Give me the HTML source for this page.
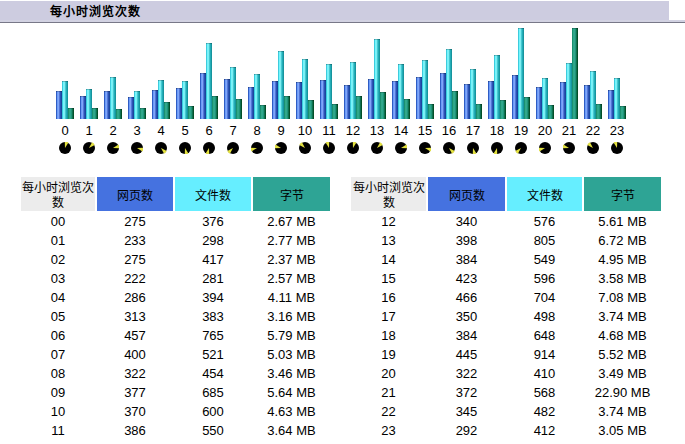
<!DOCTYPE html><html lang="zh-CN"><head><meta charset="utf-8"><style>
*{margin:0;padding:0;box-sizing:border-box}
html,body{width:685px;height:444px;overflow:hidden;background:#fff}
body{position:relative;font-family:"Liberation Sans",sans-serif;color:#000}
.a{position:absolute}
#tb{left:0;top:1px;width:669px;height:21px;background:#CDCCE0}
#ts{left:0;top:20px;width:685px;height:2px;background:#D2D2E2}
#tl{left:0;top:22px;width:685px;height:1px;background:#787888}
#tt{left:50px;top:4px;font-size:12px;letter-spacing:1px;font-weight:bold;line-height:16px;white-space:nowrap}
.bp{width:6px;background:linear-gradient(90deg,#2f5cc4 0 16.6%,#6c9cf8 16.6% 33.3%,#80a6f8 33.3% 50%,#5276d6 50% 66.6%,#2b52b4 66.6% 83.3%,#1a469e 83.3%)}
.bh{width:6px;background:linear-gradient(90deg,#3ecbdc 0 16.6%,#72f6fe 16.6% 33.3%,#7eeef2 33.3% 50%,#44c8d2 50% 66.6%,#22adb6 66.6% 83.3%,#17949e 83.3%)}
.bk{width:6px;background:linear-gradient(90deg,#1a9070 0 16.6%,#30a888 16.6% 33.3%,#30a68e 33.3% 50%,#1f9676 50% 66.6%,#0f6f50 66.6% 83.3%,#045028 83.3%)}
.lb{width:24px;text-align:center;font-size:13px;line-height:16px;top:123px}
.ic{width:12px;height:12px;top:142px}
.ic svg{display:block}
.th span{position:relative;top:2px}
.th{top:177px;height:34px;font-size:12px;line-height:15px;text-align:center;display:flex;align-items:center;justify-content:center}
.bp,.bh,.bk{box-shadow:inset 0 1px 0 rgba(0,0,0,.22)}
.td{font-size:13px;line-height:19px;text-align:center;white-space:nowrap}
</style></head><body>
<div class="a" id="tb"></div><div class="a" id="ts"></div><div class="a" id="tl"></div><div class="a" id="tt">每小时浏览次数</div>
<div class="a bp" style="left:56px;top:91px;height:28px"></div>
<div class="a bh" style="left:62px;top:81px;height:38px"></div>
<div class="a bk" style="left:68px;top:108px;height:11px"></div>
<div class="a lb" style="left:53px">0</div>
<div class="a ic" style="left:59px"><svg width="12" height="12" viewBox="0 0 12 12"><circle cx="6" cy="6" r="6" fill="#000"/><path d="M6 6L5.77 -0.50A6.5 6.5 0 0 1 9.44 0.49Z" fill="#e2e040"/></svg></div>
<div class="a bp" style="left:80px;top:96px;height:23px"></div>
<div class="a bh" style="left:86px;top:89px;height:30px"></div>
<div class="a bk" style="left:92px;top:108px;height:11px"></div>
<div class="a lb" style="left:77px">1</div>
<div class="a ic" style="left:83px"><svg width="12" height="12" viewBox="0 0 12 12"><circle cx="6" cy="6" r="6" fill="#000"/><path d="M6 6L9.05 0.26A6.5 6.5 0 0 1 11.74 2.95Z" fill="#e2e040"/></svg></div>
<div class="a bp" style="left:104px;top:91px;height:28px"></div>
<div class="a bh" style="left:110px;top:77px;height:42px"></div>
<div class="a bk" style="left:116px;top:109px;height:10px"></div>
<div class="a lb" style="left:101px">2</div>
<div class="a ic" style="left:107px"><svg width="12" height="12" viewBox="0 0 12 12"><circle cx="6" cy="6" r="6" fill="#000"/><path d="M6 6L11.51 2.56A6.5 6.5 0 0 1 12.50 6.23Z" fill="#e2e040"/></svg></div>
<div class="a bp" style="left:128px;top:97px;height:22px"></div>
<div class="a bh" style="left:134px;top:91px;height:28px"></div>
<div class="a bk" style="left:140px;top:108px;height:11px"></div>
<div class="a lb" style="left:125px">3</div>
<div class="a ic" style="left:131px"><svg width="12" height="12" viewBox="0 0 12 12"><circle cx="6" cy="6" r="6" fill="#000"/><path d="M6 6L12.50 5.77A6.5 6.5 0 0 1 11.51 9.44Z" fill="#e2e040"/></svg></div>
<div class="a bp" style="left:152px;top:90px;height:29px"></div>
<div class="a bh" style="left:158px;top:80px;height:39px"></div>
<div class="a bk" style="left:164px;top:102px;height:17px"></div>
<div class="a lb" style="left:149px">4</div>
<div class="a ic" style="left:155px"><svg width="12" height="12" viewBox="0 0 12 12"><circle cx="6" cy="6" r="6" fill="#000"/><path d="M6 6L11.74 9.05A6.5 6.5 0 0 1 9.05 11.74Z" fill="#e2e040"/></svg></div>
<div class="a bp" style="left:176px;top:88px;height:31px"></div>
<div class="a bh" style="left:182px;top:81px;height:38px"></div>
<div class="a bk" style="left:188px;top:106px;height:13px"></div>
<div class="a lb" style="left:173px">5</div>
<div class="a ic" style="left:179px"><svg width="12" height="12" viewBox="0 0 12 12"><circle cx="6" cy="6" r="6" fill="#000"/><path d="M6 6L9.44 11.51A6.5 6.5 0 0 1 5.77 12.50Z" fill="#e2e040"/></svg></div>
<div class="a bp" style="left:200px;top:73px;height:46px"></div>
<div class="a bh" style="left:206px;top:43px;height:76px"></div>
<div class="a bk" style="left:212px;top:96px;height:23px"></div>
<div class="a lb" style="left:197px">6</div>
<div class="a ic" style="left:203px"><svg width="12" height="12" viewBox="0 0 12 12"><circle cx="6" cy="6" r="6" fill="#000"/><path d="M6 6L6.23 12.50A6.5 6.5 0 0 1 2.56 11.51Z" fill="#e2e040"/></svg></div>
<div class="a bp" style="left:224px;top:79px;height:40px"></div>
<div class="a bh" style="left:230px;top:67px;height:52px"></div>
<div class="a bk" style="left:236px;top:99px;height:20px"></div>
<div class="a lb" style="left:221px">7</div>
<div class="a ic" style="left:227px"><svg width="12" height="12" viewBox="0 0 12 12"><circle cx="6" cy="6" r="6" fill="#000"/><path d="M6 6L2.95 11.74A6.5 6.5 0 0 1 0.26 9.05Z" fill="#e2e040"/></svg></div>
<div class="a bp" style="left:248px;top:87px;height:32px"></div>
<div class="a bh" style="left:254px;top:74px;height:45px"></div>
<div class="a bk" style="left:260px;top:105px;height:14px"></div>
<div class="a lb" style="left:245px">8</div>
<div class="a ic" style="left:251px"><svg width="12" height="12" viewBox="0 0 12 12"><circle cx="6" cy="6" r="6" fill="#000"/><path d="M6 6L0.49 9.44A6.5 6.5 0 0 1 -0.50 5.77Z" fill="#e2e040"/></svg></div>
<div class="a bp" style="left:272px;top:81px;height:38px"></div>
<div class="a bh" style="left:278px;top:51px;height:68px"></div>
<div class="a bk" style="left:284px;top:96px;height:23px"></div>
<div class="a lb" style="left:269px">9</div>
<div class="a ic" style="left:275px"><svg width="12" height="12" viewBox="0 0 12 12"><circle cx="6" cy="6" r="6" fill="#000"/><path d="M6 6L-0.50 6.23A6.5 6.5 0 0 1 0.49 2.56Z" fill="#e2e040"/></svg></div>
<div class="a bp" style="left:296px;top:82px;height:37px"></div>
<div class="a bh" style="left:302px;top:59px;height:60px"></div>
<div class="a bk" style="left:308px;top:100px;height:19px"></div>
<div class="a lb" style="left:293px">10</div>
<div class="a ic" style="left:299px"><svg width="12" height="12" viewBox="0 0 12 12"><circle cx="6" cy="6" r="6" fill="#000"/><path d="M6 6L0.26 2.95A6.5 6.5 0 0 1 2.95 0.26Z" fill="#e2e040"/></svg></div>
<div class="a bp" style="left:320px;top:80px;height:39px"></div>
<div class="a bh" style="left:326px;top:64px;height:55px"></div>
<div class="a bk" style="left:332px;top:104px;height:15px"></div>
<div class="a lb" style="left:317px">11</div>
<div class="a ic" style="left:323px"><svg width="12" height="12" viewBox="0 0 12 12"><circle cx="6" cy="6" r="6" fill="#000"/><path d="M6 6L2.56 0.49A6.5 6.5 0 0 1 6.23 -0.50Z" fill="#e2e040"/></svg></div>
<div class="a bp" style="left:344px;top:85px;height:34px"></div>
<div class="a bh" style="left:350px;top:62px;height:57px"></div>
<div class="a bk" style="left:356px;top:96px;height:23px"></div>
<div class="a lb" style="left:341px">12</div>
<div class="a ic" style="left:347px"><svg width="12" height="12" viewBox="0 0 12 12"><circle cx="6" cy="6" r="6" fill="#000"/><path d="M6 6L5.77 -0.50A6.5 6.5 0 0 1 9.44 0.49Z" fill="#e2e040"/></svg></div>
<div class="a bp" style="left:368px;top:79px;height:40px"></div>
<div class="a bh" style="left:374px;top:39px;height:80px"></div>
<div class="a bk" style="left:380px;top:92px;height:27px"></div>
<div class="a lb" style="left:365px">13</div>
<div class="a ic" style="left:371px"><svg width="12" height="12" viewBox="0 0 12 12"><circle cx="6" cy="6" r="6" fill="#000"/><path d="M6 6L9.05 0.26A6.5 6.5 0 0 1 11.74 2.95Z" fill="#e2e040"/></svg></div>
<div class="a bp" style="left:392px;top:81px;height:38px"></div>
<div class="a bh" style="left:398px;top:64px;height:55px"></div>
<div class="a bk" style="left:404px;top:99px;height:20px"></div>
<div class="a lb" style="left:389px">14</div>
<div class="a ic" style="left:395px"><svg width="12" height="12" viewBox="0 0 12 12"><circle cx="6" cy="6" r="6" fill="#000"/><path d="M6 6L11.51 2.56A6.5 6.5 0 0 1 12.50 6.23Z" fill="#e2e040"/></svg></div>
<div class="a bp" style="left:416px;top:77px;height:42px"></div>
<div class="a bh" style="left:422px;top:60px;height:59px"></div>
<div class="a bk" style="left:428px;top:104px;height:15px"></div>
<div class="a lb" style="left:413px">15</div>
<div class="a ic" style="left:419px"><svg width="12" height="12" viewBox="0 0 12 12"><circle cx="6" cy="6" r="6" fill="#000"/><path d="M6 6L12.50 5.77A6.5 6.5 0 0 1 11.51 9.44Z" fill="#e2e040"/></svg></div>
<div class="a bp" style="left:440px;top:73px;height:46px"></div>
<div class="a bh" style="left:446px;top:49px;height:70px"></div>
<div class="a bk" style="left:452px;top:91px;height:28px"></div>
<div class="a lb" style="left:437px">16</div>
<div class="a ic" style="left:443px"><svg width="12" height="12" viewBox="0 0 12 12"><circle cx="6" cy="6" r="6" fill="#000"/><path d="M6 6L11.74 9.05A6.5 6.5 0 0 1 9.05 11.74Z" fill="#e2e040"/></svg></div>
<div class="a bp" style="left:464px;top:84px;height:35px"></div>
<div class="a bh" style="left:470px;top:69px;height:50px"></div>
<div class="a bk" style="left:476px;top:104px;height:15px"></div>
<div class="a lb" style="left:461px">17</div>
<div class="a ic" style="left:467px"><svg width="12" height="12" viewBox="0 0 12 12"><circle cx="6" cy="6" r="6" fill="#000"/><path d="M6 6L9.44 11.51A6.5 6.5 0 0 1 5.77 12.50Z" fill="#e2e040"/></svg></div>
<div class="a bp" style="left:488px;top:81px;height:38px"></div>
<div class="a bh" style="left:494px;top:55px;height:64px"></div>
<div class="a bk" style="left:500px;top:100px;height:19px"></div>
<div class="a lb" style="left:485px">18</div>
<div class="a ic" style="left:491px"><svg width="12" height="12" viewBox="0 0 12 12"><circle cx="6" cy="6" r="6" fill="#000"/><path d="M6 6L6.23 12.50A6.5 6.5 0 0 1 2.56 11.51Z" fill="#e2e040"/></svg></div>
<div class="a bp" style="left:512px;top:75px;height:44px"></div>
<div class="a bh" style="left:518px;top:28px;height:91px"></div>
<div class="a bk" style="left:524px;top:97px;height:22px"></div>
<div class="a lb" style="left:509px">19</div>
<div class="a ic" style="left:515px"><svg width="12" height="12" viewBox="0 0 12 12"><circle cx="6" cy="6" r="6" fill="#000"/><path d="M6 6L2.95 11.74A6.5 6.5 0 0 1 0.26 9.05Z" fill="#e2e040"/></svg></div>
<div class="a bp" style="left:536px;top:87px;height:32px"></div>
<div class="a bh" style="left:542px;top:78px;height:41px"></div>
<div class="a bk" style="left:548px;top:105px;height:14px"></div>
<div class="a lb" style="left:533px">20</div>
<div class="a ic" style="left:539px"><svg width="12" height="12" viewBox="0 0 12 12"><circle cx="6" cy="6" r="6" fill="#000"/><path d="M6 6L0.49 9.44A6.5 6.5 0 0 1 -0.50 5.77Z" fill="#e2e040"/></svg></div>
<div class="a bp" style="left:560px;top:82px;height:37px"></div>
<div class="a bh" style="left:566px;top:63px;height:56px"></div>
<div class="a bk" style="left:572px;top:28px;height:91px"></div>
<div class="a lb" style="left:557px">21</div>
<div class="a ic" style="left:563px"><svg width="12" height="12" viewBox="0 0 12 12"><circle cx="6" cy="6" r="6" fill="#000"/><path d="M6 6L-0.50 6.23A6.5 6.5 0 0 1 0.49 2.56Z" fill="#e2e040"/></svg></div>
<div class="a bp" style="left:584px;top:85px;height:34px"></div>
<div class="a bh" style="left:590px;top:71px;height:48px"></div>
<div class="a bk" style="left:596px;top:104px;height:15px"></div>
<div class="a lb" style="left:581px">22</div>
<div class="a ic" style="left:587px"><svg width="12" height="12" viewBox="0 0 12 12"><circle cx="6" cy="6" r="6" fill="#000"/><path d="M6 6L0.26 2.95A6.5 6.5 0 0 1 2.95 0.26Z" fill="#e2e040"/></svg></div>
<div class="a bp" style="left:608px;top:90px;height:29px"></div>
<div class="a bh" style="left:614px;top:78px;height:41px"></div>
<div class="a bk" style="left:620px;top:106px;height:13px"></div>
<div class="a lb" style="left:605px">23</div>
<div class="a ic" style="left:611px"><svg width="12" height="12" viewBox="0 0 12 12"><circle cx="6" cy="6" r="6" fill="#000"/><path d="M6 6L2.56 0.49A6.5 6.5 0 0 1 6.23 -0.50Z" fill="#e2e040"/></svg></div>
<div class="a th" style="left:21px;width:74px;background:#ECECEC"><span>每小时浏览次数</span></div>
<div class="a th" style="left:97px;width:76px;background:#4572E0"><span>网页数</span></div>
<div class="a th" style="left:175px;width:76px;background:#66EEFF"><span>文件数</span></div>
<div class="a th" style="left:253px;width:77px;background:#2EA495"><span>字节</span></div>
<div class="a td" style="left:21px;width:74px;top:212px">00</div>
<div class="a td" style="left:97px;width:76px;top:212px">275</div>
<div class="a td" style="left:175px;width:76px;top:212px">376</div>
<div class="a td" style="left:253px;width:77px;top:212px">2.67 MB</div>
<div class="a td" style="left:21px;width:74px;top:231px">01</div>
<div class="a td" style="left:97px;width:76px;top:231px">233</div>
<div class="a td" style="left:175px;width:76px;top:231px">298</div>
<div class="a td" style="left:253px;width:77px;top:231px">2.77 MB</div>
<div class="a td" style="left:21px;width:74px;top:250px">02</div>
<div class="a td" style="left:97px;width:76px;top:250px">275</div>
<div class="a td" style="left:175px;width:76px;top:250px">417</div>
<div class="a td" style="left:253px;width:77px;top:250px">2.37 MB</div>
<div class="a td" style="left:21px;width:74px;top:269px">03</div>
<div class="a td" style="left:97px;width:76px;top:269px">222</div>
<div class="a td" style="left:175px;width:76px;top:269px">281</div>
<div class="a td" style="left:253px;width:77px;top:269px">2.57 MB</div>
<div class="a td" style="left:21px;width:74px;top:288px">04</div>
<div class="a td" style="left:97px;width:76px;top:288px">286</div>
<div class="a td" style="left:175px;width:76px;top:288px">394</div>
<div class="a td" style="left:253px;width:77px;top:288px">4.11 MB</div>
<div class="a td" style="left:21px;width:74px;top:307px">05</div>
<div class="a td" style="left:97px;width:76px;top:307px">313</div>
<div class="a td" style="left:175px;width:76px;top:307px">383</div>
<div class="a td" style="left:253px;width:77px;top:307px">3.16 MB</div>
<div class="a td" style="left:21px;width:74px;top:326px">06</div>
<div class="a td" style="left:97px;width:76px;top:326px">457</div>
<div class="a td" style="left:175px;width:76px;top:326px">765</div>
<div class="a td" style="left:253px;width:77px;top:326px">5.79 MB</div>
<div class="a td" style="left:21px;width:74px;top:345px">07</div>
<div class="a td" style="left:97px;width:76px;top:345px">400</div>
<div class="a td" style="left:175px;width:76px;top:345px">521</div>
<div class="a td" style="left:253px;width:77px;top:345px">5.03 MB</div>
<div class="a td" style="left:21px;width:74px;top:364px">08</div>
<div class="a td" style="left:97px;width:76px;top:364px">322</div>
<div class="a td" style="left:175px;width:76px;top:364px">454</div>
<div class="a td" style="left:253px;width:77px;top:364px">3.46 MB</div>
<div class="a td" style="left:21px;width:74px;top:383px">09</div>
<div class="a td" style="left:97px;width:76px;top:383px">377</div>
<div class="a td" style="left:175px;width:76px;top:383px">685</div>
<div class="a td" style="left:253px;width:77px;top:383px">5.64 MB</div>
<div class="a td" style="left:21px;width:74px;top:402px">10</div>
<div class="a td" style="left:97px;width:76px;top:402px">370</div>
<div class="a td" style="left:175px;width:76px;top:402px">600</div>
<div class="a td" style="left:253px;width:77px;top:402px">4.63 MB</div>
<div class="a td" style="left:21px;width:74px;top:421px">11</div>
<div class="a td" style="left:97px;width:76px;top:421px">386</div>
<div class="a td" style="left:175px;width:76px;top:421px">550</div>
<div class="a td" style="left:253px;width:77px;top:421px">3.64 MB</div>
<div class="a th" style="left:351px;width:75px;background:#ECECEC"><span>每小时浏览次数</span></div>
<div class="a th" style="left:428px;width:77px;background:#4572E0"><span>网页数</span></div>
<div class="a th" style="left:507px;width:75px;background:#66EEFF"><span>文件数</span></div>
<div class="a th" style="left:584px;width:77px;background:#2EA495"><span>字节</span></div>
<div class="a td" style="left:351px;width:75px;top:212px">12</div>
<div class="a td" style="left:428px;width:77px;top:212px">340</div>
<div class="a td" style="left:507px;width:75px;top:212px">576</div>
<div class="a td" style="left:584px;width:77px;top:212px">5.61 MB</div>
<div class="a td" style="left:351px;width:75px;top:231px">13</div>
<div class="a td" style="left:428px;width:77px;top:231px">398</div>
<div class="a td" style="left:507px;width:75px;top:231px">805</div>
<div class="a td" style="left:584px;width:77px;top:231px">6.72 MB</div>
<div class="a td" style="left:351px;width:75px;top:250px">14</div>
<div class="a td" style="left:428px;width:77px;top:250px">384</div>
<div class="a td" style="left:507px;width:75px;top:250px">549</div>
<div class="a td" style="left:584px;width:77px;top:250px">4.95 MB</div>
<div class="a td" style="left:351px;width:75px;top:269px">15</div>
<div class="a td" style="left:428px;width:77px;top:269px">423</div>
<div class="a td" style="left:507px;width:75px;top:269px">596</div>
<div class="a td" style="left:584px;width:77px;top:269px">3.58 MB</div>
<div class="a td" style="left:351px;width:75px;top:288px">16</div>
<div class="a td" style="left:428px;width:77px;top:288px">466</div>
<div class="a td" style="left:507px;width:75px;top:288px">704</div>
<div class="a td" style="left:584px;width:77px;top:288px">7.08 MB</div>
<div class="a td" style="left:351px;width:75px;top:307px">17</div>
<div class="a td" style="left:428px;width:77px;top:307px">350</div>
<div class="a td" style="left:507px;width:75px;top:307px">498</div>
<div class="a td" style="left:584px;width:77px;top:307px">3.74 MB</div>
<div class="a td" style="left:351px;width:75px;top:326px">18</div>
<div class="a td" style="left:428px;width:77px;top:326px">384</div>
<div class="a td" style="left:507px;width:75px;top:326px">648</div>
<div class="a td" style="left:584px;width:77px;top:326px">4.68 MB</div>
<div class="a td" style="left:351px;width:75px;top:345px">19</div>
<div class="a td" style="left:428px;width:77px;top:345px">445</div>
<div class="a td" style="left:507px;width:75px;top:345px">914</div>
<div class="a td" style="left:584px;width:77px;top:345px">5.52 MB</div>
<div class="a td" style="left:351px;width:75px;top:364px">20</div>
<div class="a td" style="left:428px;width:77px;top:364px">322</div>
<div class="a td" style="left:507px;width:75px;top:364px">410</div>
<div class="a td" style="left:584px;width:77px;top:364px">3.49 MB</div>
<div class="a td" style="left:351px;width:75px;top:383px">21</div>
<div class="a td" style="left:428px;width:77px;top:383px">372</div>
<div class="a td" style="left:507px;width:75px;top:383px">568</div>
<div class="a td" style="left:584px;width:77px;top:383px">22.90 MB</div>
<div class="a td" style="left:351px;width:75px;top:402px">22</div>
<div class="a td" style="left:428px;width:77px;top:402px">345</div>
<div class="a td" style="left:507px;width:75px;top:402px">482</div>
<div class="a td" style="left:584px;width:77px;top:402px">3.74 MB</div>
<div class="a td" style="left:351px;width:75px;top:421px">23</div>
<div class="a td" style="left:428px;width:77px;top:421px">292</div>
<div class="a td" style="left:507px;width:75px;top:421px">412</div>
<div class="a td" style="left:584px;width:77px;top:421px">3.05 MB</div>
</body></html>
